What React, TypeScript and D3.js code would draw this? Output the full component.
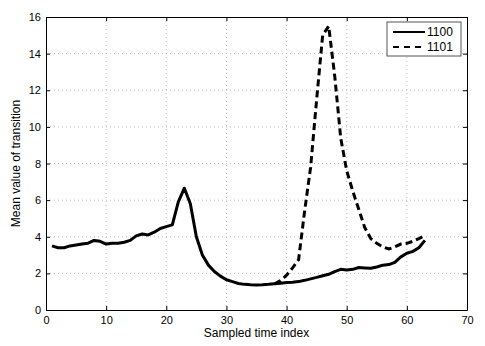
import * as d3 from "d3";
import React, { useRef, useEffect } from "react";

// sampled time index 1..63
const solidValues = [
  3.5, 3.4, 3.4, 3.5, 3.55, 3.6, 3.65, 3.8, 3.75, 3.6,
  3.65, 3.65, 3.7, 3.8, 4.05, 4.15, 4.1, 4.25, 4.45, 4.55,
  4.65, 5.9, 6.65, 5.8, 4.0, 3.0, 2.45, 2.1, 1.85, 1.65,
  1.55, 1.45, 1.4, 1.38, 1.37, 1.38, 1.4, 1.43, 1.46, 1.5,
  1.52, 1.55, 1.62, 1.7, 1.78, 1.87, 1.95, 2.1, 2.22, 2.18,
  2.22, 2.32, 2.3, 2.28, 2.35, 2.45, 2.48, 2.6, 2.9, 3.1,
  3.2, 3.4, 3.8,
];
// dashed series starts at index 38 (coincides with solid before)
const dashedStart = 38;
const dashedValues = [
  1.43, 1.6, 1.9, 2.3, 2.75, 5.4, 7.8, 11.5, 15.0, 15.5,
  12.8, 9.4, 7.6, 6.5, 5.5, 4.5, 3.9, 3.64, 3.45, 3.33,
  3.45, 3.6, 3.64, 3.75, 3.9, 4.06,
];
const seriesNames = ["1100", "1101"];
const xTicks = [0, 10, 20, 30, 40, 50, 60, 70];
const yTicks = [0, 2, 4, 6, 8, 10, 12, 14, 16];

const W = 485;
const H = 346;
const margin = { top: 17, right: 18, bottom: 36, left: 46 };

function App() {
  const ref = useRef<SVGSVGElement>(null);

  useEffect(() => {
    const svg = d3.select(ref.current);
    svg.selectAll("*").remove();
    const w = W - margin.left - margin.right;
    const h = H - margin.top - margin.bottom;
    const font = "'Liberation Sans', Arial, sans-serif";

    const x = d3.scaleLinear().domain([0, 70]).range([0, w]);
    const y = d3.scaleLinear().domain([0, 16]).range([h, 0]);

    const g = svg
      .append("g")
      .attr("transform", "translate(" + margin.left + "," + margin.top + ")");

    // dotted grid
    g.selectAll(".gx")
      .data(xTicks.slice(1, -1))
      .enter()
      .append("line")
      .attr("x1", (d) => x(d))
      .attr("x2", (d) => x(d))
      .attr("y1", 0)
      .attr("y2", h)
      .attr("stroke", "#bbb")
      .attr("stroke-width", 1)
      .attr("stroke-dasharray", "1,3");
    g.selectAll(".gy")
      .data(yTicks.slice(1, -1))
      .enter()
      .append("line")
      .attr("x1", 0)
      .attr("x2", w)
      .attr("y1", (d) => y(d))
      .attr("y2", (d) => y(d))
      .attr("stroke", "#bbb")
      .attr("stroke-width", 1)
      .attr("stroke-dasharray", "1,3");

    // axes (ticks pointing inward, box on all sides)
    const styleAxis = (sel: any) => {
      sel.select(".domain").attr("stroke", "#000");
      sel.selectAll(".tick line").attr("stroke", "#000");
      sel.selectAll("text").attr("font-family", font).attr("font-size", 11).attr("fill", "#000");
    };
    g.append("g")
      .attr("transform", "translate(0," + h + ")")
      .call(d3.axisBottom(x).tickValues(xTicks).tickSizeInner(-4).tickSizeOuter(0).tickPadding(6))
      .call(styleAxis);
    g.append("g")
      .call(d3.axisLeft(y).tickValues(yTicks).tickSizeInner(-4).tickSizeOuter(0).tickPadding(5))
      .call(styleAxis);
    g.append("g")
      .call(d3.axisTop(x).tickValues(xTicks).tickSizeInner(-4).tickSizeOuter(0).tickFormat(() => ""))
      .call(styleAxis);
    g.append("g")
      .attr("transform", "translate(" + w + ",0)")
      .call(d3.axisRight(y).tickValues(yTicks).tickSizeInner(-4).tickSizeOuter(0).tickFormat(() => ""))
      .call(styleAxis);

    const line = d3
      .line<number>()
      .x((d, i) => x(i + 1))
      .y((d) => y(d));
    const lineDashed = d3
      .line<number>()
      .x((d, i) => x(i + dashedStart))
      .y((d) => y(d));

    g.append("path")
      .datum(dashedValues)
      .attr("d", lineDashed)
      .attr("fill", "none")
      .attr("stroke", "#000")
      .attr("stroke-width", 3)
      .attr("stroke-dasharray", "7,4");
    g.append("path")
      .datum(solidValues)
      .attr("d", line)
      .attr("fill", "none")
      .attr("stroke", "#000")
      .attr("stroke-width", 3)
      .attr("stroke-linejoin", "round");

    // axis labels
    svg
      .append("text")
      .attr("x", margin.left + w / 2)
      .attr("y", 337)
      .attr("text-anchor", "middle")
      .attr("font-family", font)
      .attr("font-size", 12)
      .text("Sampled time index");
    svg
      .append("text")
      .attr("transform", "translate(20," + (margin.top + h / 2) + ") rotate(-90)")
      .attr("text-anchor", "middle")
      .attr("font-family", font)
      .attr("font-size", 12)
      .text("Mean value of transition");

    // legend
    const lg = svg.append("g").attr("transform", "translate(387,22)");
    lg.append("rect")
      .attr("width", 74)
      .attr("height", 34)
      .attr("fill", "#fff")
      .attr("stroke", "#555")
      .attr("stroke-width", 1);
    seriesNames.forEach((name, i) => {
      const yy = 10 + i * 15;
      lg.append("line")
        .attr("x1", 6)
        .attr("x2", 38)
        .attr("y1", yy)
        .attr("y2", yy)
        .attr("stroke", "#000")
        .attr("stroke-width", 2)
        .attr("stroke-dasharray", i === 1 ? "6,5" : null);
      lg.append("text")
        .attr("x", 40)
        .attr("y", yy + 4)
        .attr("font-family", font)
        .attr("font-size", 12)
        .text(name);
    });
  }, []);

  return (
    <div className="chart">
      <svg
        ref={ref}
        width={W}
        height={H}
        style={{ position: "absolute", left: 0, top: 0, background: "#fff" }}
      ></svg>
    </div>
  );
}

export default App;
